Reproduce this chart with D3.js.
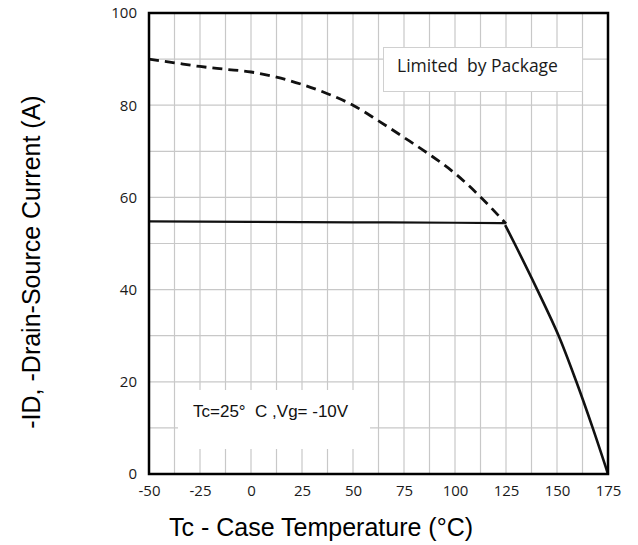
<!DOCTYPE html>
<head>
  <meta charset="utf-8">
  <script src="https://d3js.org/d3.v7.min.js"></script>
  <style>
    body { margin:0; background:white; }
    .tick text { font-family: "Open Sans", sans-serif; font-size: 15px; fill: #1a1a1a; }
  </style>
</head>
<body>
<script>
// dashed curve: current limit without package limitation
var dashTemp  = [-50, -37.5, -25, -12.5, 0, 12.5, 25, 37.5, 50, 62.5, 75, 87.5, 100, 112.5, 125];
var dashCurr  = [90, 89.2, 88.4, 87.8, 87.2, 86.1, 84.5, 82.5, 80.0, 76.6, 73.0, 69.3, 65.2, 60.1, 54.3];
// flat package limit
var pkgTemp   = [-50, 0, 50, 100, 124];
var pkgCurr   = [54.8, 54.7, 54.6, 54.5, 54.4];
// thermal derating above 125
var dropTemp  = [124.6, 129.2, 140.3, 150.8, 159.5, 167.5, 175];
var dropCurr  = [54.0, 50, 40, 30, 20, 10, 0];

var xTicks = [-50, -25, 0, 25, 50, 75, 100, 125, 150, 175];
var yTicks = [0, 20, 40, 60, 80, 100];

var svg = d3.select("body").append("svg")
  .attr("width", 638)
  .attr("height", 545)

var x = d3.scaleLinear().domain([-50, 175]).range([149, 608])
var y = d3.scaleLinear().domain([0, 100]).range([474, 13])

// grid
var gx = d3.range(-50, 175.01, 12.5)
var gy = d3.range(0, 100.01, 10)
svg.append("g").selectAll("line").data(gx).enter().append("line")
  .attr("x1", x).attr("x2", x).attr("y1", y(0)).attr("y2", y(100))
  .style("stroke", "#c8c8c8").style("stroke-width", 1.2)
svg.append("g").selectAll("line").data(gy).enter().append("line")
  .attr("y1", y).attr("y2", y).attr("x1", x(-50)).attr("x2", x(175))
  .style("stroke", "#c8c8c8").style("stroke-width", 1.2)

// white note box covering the grid
svg.append("rect").attr("x", 178).attr("y", 390).attr("width", 192).attr("height", 59)
  .style("fill", "white")
svg.append("text").attr("x", 193).attr("y", 417)
  .style("font-family", "'Liberation Sans', Arial, sans-serif").style("font-size", "17px")
  .style("white-space", "pre").style("fill", "#111")
  .text("Tc=25°  C ,Vg= -10V")

// legend box
svg.append("rect").attr("x", 383.5).attr("y", 47.5).attr("width", 199).attr("height", 44)
  .style("fill", "white").style("stroke", "#d0d0d0").style("stroke-width", 1)
svg.append("text").attr("x", 397).attr("y", 72)
  .style("font-family", "'Open Sans', sans-serif").style("font-size", "17.5px")
  .style("white-space", "pre").style("fill", "#1a1a1a")
  .text("Limited  by Package")

var line = d3.line().x(function(d) { return x(d[0]) }).y(function(d) { return y(d[1]) })
  .curve(d3.curveMonotoneX)

svg.append("path").datum(d3.zip(dashTemp, dashCurr)).attr("d", line)
  .style("fill", "none").style("stroke", "#111").style("stroke-width", 2.8)
  .style("stroke-dasharray", "10,6")
svg.append("path").datum(d3.zip(pkgTemp, pkgCurr)).attr("d", line)
  .style("fill", "none").style("stroke", "#111").style("stroke-width", 2.2)
svg.append("path").datum(d3.zip(dropTemp, dropCurr)).attr("d", line.curve(d3.curveCatmullRom))
  .style("fill", "none").style("stroke", "#111").style("stroke-width", 2.6)

// frame
svg.append("rect").attr("x", x(-50)).attr("y", y(100))
  .attr("width", x(175) - x(-50)).attr("height", y(0) - y(100))
  .style("fill", "none").style("stroke", "black").style("stroke-width", 2.5)

var fmt = function(d) { return String(d) }
var xAxis = d3.axisBottom(x).tickValues(xTicks).tickFormat(fmt).tickSize(0).tickPadding(11)
var yAxis = d3.axisLeft(y).tickValues(yTicks).tickFormat(fmt).tickSize(0).tickPadding(12)
svg.append("g").attr("class", "xaxis").attr("transform", "translate(0,474)").call(xAxis)
  .call(function(g) { g.select(".domain").remove() })
svg.append("g").attr("class", "yaxis").attr("transform", "translate(149,0)").call(yAxis)
  .call(function(g) { g.select(".domain").remove() })

svg.append("text").attr("x", 321).attr("y", 536).attr("text-anchor", "middle")
  .style("font-family", "'Liberation Sans', Arial, sans-serif").style("font-size", "25px")
  .text("Tc - Case Temperature (°C)")
svg.append("text").attr("transform", "translate(40,262) rotate(-90)").attr("text-anchor", "middle")
  .style("font-family", "'Liberation Sans', Arial, sans-serif").style("font-size", "25px")
  .text("-ID, -Drain-Source Current (A)")
</script>
</body>
